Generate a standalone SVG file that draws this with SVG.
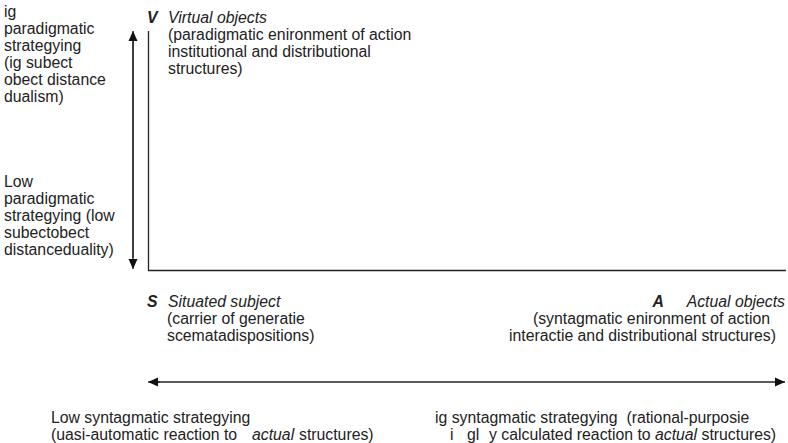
<svg xmlns="http://www.w3.org/2000/svg" width="788" height="443" viewBox="0 0 788 443">
<style>
text{font-family:"Liberation Sans",Arial,sans-serif;font-size:15.8px;fill:#222}
.i{font-style:italic}
.b{font-weight:bold;font-style:italic}
.ln{stroke:#222;stroke-width:1.3;fill:none}
</style>
<defs>
<marker id="ah" viewBox="0 0 10 10" refX="10" refY="5" markerWidth="10" markerHeight="10" markerUnits="userSpaceOnUse" orient="auto-start-reverse">
<path d="M0,0.5 L10,5 L0,9.5 Z" fill="#111"/>
</marker>
</defs>
<rect width="788" height="443" fill="#fff"/>
<g id="connectors">
<line class="ln" x1="133" y1="258" x2="133" y2="31" marker-end="url(#ah)"/>
<line class="ln" x1="133" y1="40" x2="133" y2="269" marker-end="url(#ah)"/>
<polyline class="ln" points="148.5,31 148.5,270.5 786,270.5"/>
<line class="ln" x1="160" y1="382" x2="148" y2="382" marker-end="url(#ah)"/>
<line class="ln" x1="158" y1="382" x2="785" y2="382" marker-end="url(#ah)"/>
</g>
<g id="high-paradigmatic">
<text x="4" y="17">ig</text>
<text x="4" y="34">paradigmatic</text>
<text x="4" y="51">strategying</text>
<text x="4" y="68">(ig subect</text>
<text x="4" y="85">obect distance</text>
<text x="4" y="102">dualism)</text>
</g>
<g id="low-paradigmatic">
<text x="4" y="187">Low</text>
<text x="4" y="204">paradigmatic</text>
<text x="4" y="221">strategying (low</text>
<text x="4" y="238">subectobect</text>
<text x="4" y="255">distanceduality)</text>
</g>
<g id="virtual-objects">
<text x="147" y="23" class="b">V</text>
<text x="168" y="23" class="i">Virtual objects</text>
<text x="168" y="40">(paradigmatic enironment of action</text>
<text x="168" y="57">institutional and distributional</text>
<text x="168" y="74">structures)</text>
</g>
<g id="situated-subject">
<text x="147" y="307" class="b">S</text>
<text x="168" y="307" class="i">Situated subject</text>
<text x="167" y="324">(carrier of generatie</text>
<text x="167" y="341">scematadispositions)</text>
</g>
<g id="actual-objects" text-anchor="end">
<text x="664" y="307" class="b">A</text>
<text x="785" y="307" class="i">Actual objects</text>
<text x="770" y="324">(syntagmatic enironment of action</text>
<text x="776" y="341">interactie and distributional structures)</text>
</g>
<g id="low-syntagmatic">
<text x="51" y="423">Low syntagmatic strategying</text>
<text x="51" y="440">(uasi-automatic reaction to<tspan x="252" class="i">actual</tspan><tspan x="299">structures)</tspan></text>
</g>
<g id="high-syntagmatic">
<text x="435" y="423" xml:space="preserve">ig syntagmatic strategying  (rational-purposie</text>
<text x="450" y="440">i<tspan x="467">gl</tspan><tspan x="489">y calculated reaction to </tspan><tspan class="i">actual</tspan> structures)</text>
</g>
</svg>
